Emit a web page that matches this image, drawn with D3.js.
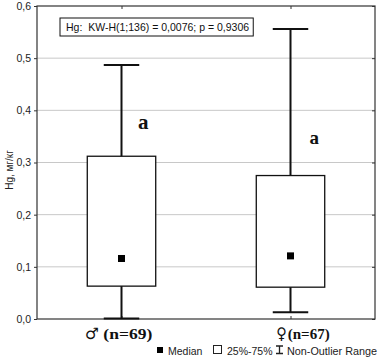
<!DOCTYPE html>
<html><head><meta charset="utf-8">
<script src="https://cdn.jsdelivr.net/npm/d3@7"></script>
<style>body{margin:0;background:#fff}svg{display:block}</style>
</head><body><svg id="c" width="380" height="360"></svg>
<script>
const categories = ["♂", "♀"];
const groupN = [69, 67];
const whiskerLow = [0.001, 0.013];
const q1 = [0.063, 0.061];
const medians = [0.116, 0.121];
const q3 = [0.312, 0.275];
const whiskerHigh = [0.487, 0.556];
const letters = ["a", "a"];
const yTicks = [0, 0.1, 0.2, 0.3, 0.4, 0.5, 0.6];
const statText = "Hg:  KW-H(1;136) = 0,0076; p = 0,9306";
const yTitle = "Hg, мг/кг";

const svg = d3.select("#c");
const L = 37, R = 375, T = 6, B = 319;
const x = d3.scalePoint().domain(categories).range([L, R]).padding(0.5);
const y = d3.scaleLinear().domain([0, 0.6]).range([B, T]);
const fmt = d => d3.format(".1f")(d).replace(".", ",");
const step = x.step();
const boxW = step * 0.405, capW = step * 0.21;
const SANS = "Arial, 'Liberation Sans', sans-serif";
const SERIF = "'Liberation Serif', 'Times New Roman', serif";

// gridlines
svg.append("g").selectAll("line").data(yTicks.slice(1, -1)).join("line")
  .attr("x1", L).attr("x2", R).attr("y1", d => y(d)).attr("y2", d => y(d))
  .attr("stroke", "#c8c8c8").attr("stroke-width", 1);

// axes
const ax = svg.append("g");
const yl = ax.append("g").attr("transform", `translate(${L},0)`).call(d3.axisLeft(y).tickValues(yTicks).tickFormat(fmt).tickSize(3).tickPadding(3));
const yr = ax.append("g").attr("transform", `translate(${R},0)`).call(d3.axisLeft(y).tickValues(yTicks).tickFormat("").tickSize(3));
const xt = ax.append("g").attr("transform", `translate(0,${T})`).call(d3.axisBottom(x).tickFormat("").tickSize(3));
const xb = ax.append("g").attr("transform", `translate(0,${B})`).call(d3.axisTop(x).tickFormat("").tickSize(3));
[yl, yr, xt, xb].forEach(g => { g.selectAll("path").remove(); g.selectAll("line").attr("stroke", "#333"); });
yl.selectAll("text").attr("fill", "#222").attr("font-family", SANS).attr("font-size", 10.5);
svg.append("rect").attr("x", L).attr("y", T).attr("width", R - L).attr("height", B - T)
  .attr("fill", "none").attr("stroke", "#333").attr("stroke-width", 1.2);

// boxes
const idx = d3.range(categories.length);
const g = svg.append("g");
g.selectAll(".wh").data(idx).join("line")
  .attr("x1", i => x(categories[i])).attr("x2", i => x(categories[i]))
  .attr("y1", i => y(whiskerLow[i])).attr("y2", i => y(whiskerHigh[i]))
  .attr("stroke", "#111").attr("stroke-width", 2);
g.selectAll(".capH").data(idx).join("line")
  .attr("x1", i => x(categories[i]) - capW / 2).attr("x2", i => x(categories[i]) + capW / 2)
  .attr("y1", i => y(whiskerHigh[i])).attr("y2", i => y(whiskerHigh[i]))
  .attr("stroke", "#111").attr("stroke-width", 2);
g.selectAll(".capL").data(idx).join("line")
  .attr("x1", i => x(categories[i]) - capW / 2).attr("x2", i => x(categories[i]) + capW / 2)
  .attr("y1", i => y(whiskerLow[i])).attr("y2", i => y(whiskerLow[i]))
  .attr("stroke", "#111").attr("stroke-width", 2);
g.selectAll(".box").data(idx).join("rect")
  .attr("x", i => x(categories[i]) - boxW / 2).attr("width", boxW)
  .attr("y", i => y(q3[i])).attr("height", i => y(q1[i]) - y(q3[i]))
  .attr("fill", "#fff").attr("stroke", "#111").attr("stroke-width", 1.3);
g.selectAll(".med").data(idx).join("rect")
  .attr("x", i => x(categories[i]) - 3.5).attr("y", i => y(medians[i]) - 3.5)
  .attr("width", 7).attr("height", 7).attr("fill", "#000");

// letters
g.selectAll(".let").data(idx).join("text")
  .attr("x", i => x(categories[i]) + 16.5 + i * 2.5).attr("y", i => y(q3[i]) - 27 - i * 4.5)
  .attr("font-family", SERIF).attr("font-weight", "bold")
  .attr("font-size", i => i === 0 ? 21 : 19).attr("fill", "#111").text(i => letters[i]);

// stat box
const st = svg.append("g");
const stT = st.append("text").attr("x", 66).attr("y", 31)
  .attr("font-family", SANS).attr("font-size", 10.5).attr("fill", "#111")
  .attr("xml:space", "preserve").style("white-space", "pre").text(statText);
const bb = stT.node().getBBox();
st.insert("rect", "text").attr("x", 60).attr("y", 18).attr("width", bb.width + 10).attr("height", 18)
  .attr("fill", "#fff").attr("stroke", "#111").attr("stroke-width", 1);

// x labels
const symOff = [-36.5, -14.2], symLen = [14, 10.5], txtOff = [-18.2, -2.8], txtLen = [49, 42];
const xl = svg.append("g").selectAll("g").data(idx).join("g");
xl.append("text").attr("x", i => x(categories[i]) + symOff[i]).attr("y", 339)
  .attr("font-family", "'DejaVu Sans', sans-serif").attr("font-size", 16).attr("fill", "#111")
  .attr("textLength", i => symLen[i]).attr("lengthAdjust", "spacingAndGlyphs")
  .text(i => categories[i]);
xl.append("text").attr("x", i => x(categories[i]) + txtOff[i]).attr("y", 339)
  .attr("font-family", SERIF).attr("font-weight", "bold").attr("font-size", 15).attr("fill", "#111")
  .attr("textLength", i => txtLen[i]).attr("lengthAdjust", "spacingAndGlyphs")
  .text(i => "(n=" + groupN[i] + ")");

// y title
svg.append("text").attr("transform", "translate(13,170) rotate(-90)").attr("text-anchor", "middle")
  .attr("font-family", SANS).attr("font-size", 10).attr("fill", "#222")
  .text(yTitle);

// legend
const lg = svg.append("g").attr("font-family", SANS).attr("font-size", 10.5).attr("fill", "#222");
lg.append("rect").attr("x", 157).attr("y", 347).attr("width", 6).attr("height", 6).attr("fill", "#000");
lg.append("text").attr("x", 168).attr("y", 355).text("Median");
lg.append("rect").attr("x", 213.5).attr("y", 345.5).attr("width", 8).attr("height", 8).attr("fill", "#fff").attr("stroke", "#222");
lg.append("text").attr("x", 227).attr("y", 355).text("25%-75%");
lg.append("path").attr("d", "M276,346H283M279.5,346V353.5M276,353.5H283").attr("stroke", "#222").attr("stroke-width", 1.3).attr("fill", "none");
lg.append("text").attr("x", 287).attr("y", 355).attr("textLength", 90).attr("lengthAdjust", "spacingAndGlyphs").text("Non-Outlier Range");
</script></body></html>
